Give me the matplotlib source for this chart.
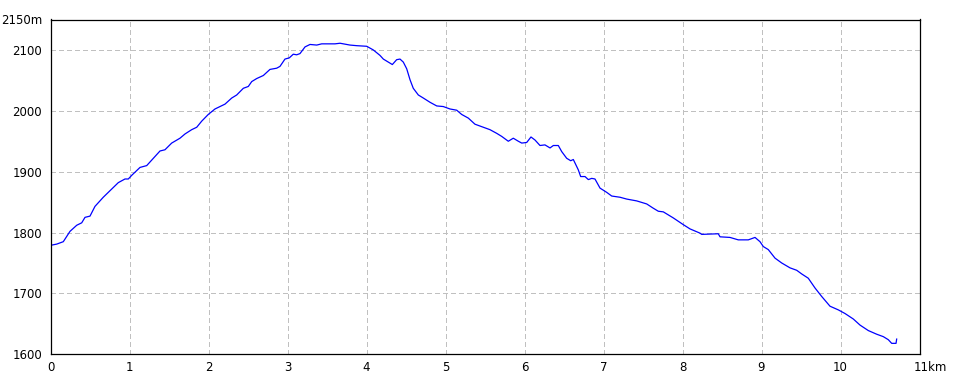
import matplotlib
matplotlib.use('Agg')
import matplotlib.pyplot as plt

# 距離 [km] と 標高 [m]
dist_km = [0.000, 0.078, 0.162, 0.247, 0.332, 0.395, 0.437, 0.500, 0.563, 0.668,
           0.795, 0.858, 0.943, 0.985, 1.028, 1.133, 1.218, 1.386, 1.449, 1.534,
           1.639, 1.703, 1.787, 1.851, 1.914, 1.997, 2.082, 2.209, 2.294, 2.357,
           2.441, 2.504, 2.547, 2.610, 2.694, 2.778, 2.863, 2.905, 2.968, 3.023,
           3.073, 3.116, 3.158, 3.222, 3.285, 3.370, 3.433, 3.601, 3.665, 3.791,
           3.876, 4.003, 4.086, 4.171, 4.213, 4.276, 4.327, 4.382, 4.424, 4.466,
           4.509, 4.551, 4.592, 4.656, 4.719, 4.804, 4.889, 4.972, 5.057, 5.142,
           5.205, 5.289, 5.373, 5.478, 5.563, 5.648, 5.711, 5.795, 5.858, 5.922,
           5.965, 6.028, 6.082, 6.133, 6.196, 6.259, 6.323, 6.365, 6.428, 6.471,
           6.534, 6.585, 6.618, 6.681, 6.711, 6.766, 6.808, 6.851, 6.892, 6.956,
           7.041, 7.104, 7.209, 7.294, 7.420, 7.547, 7.630, 7.694, 7.757, 7.884,
           8.010, 8.095, 8.222, 8.243, 8.453, 8.475, 8.601, 8.706, 8.833, 8.918,
           8.981, 9.023, 9.086, 9.171, 9.256, 9.361, 9.446, 9.509, 9.592, 9.677,
           9.762, 9.867, 9.972, 10.057, 10.162, 10.247, 10.352, 10.458, 10.542, 10.605,
           10.648, 10.703, 10.711]
elev_m = [1779, 1781, 1785, 1802, 1812, 1816, 1825, 1827, 1843, 1858,
          1874, 1882, 1888, 1888, 1894, 1907, 1910, 1934, 1936, 1947,
          1955, 1962, 1969, 1973, 1983, 1994, 2003, 2011, 2021, 2026,
          2037, 2040, 2048, 2053, 2058, 2068, 2070, 2073, 2085, 2087,
          2093, 2092, 2094, 2105, 2109, 2108, 2110, 2110, 2111, 2108,
          2107, 2106, 2100, 2091, 2085, 2080, 2076, 2084, 2085, 2080,
          2069, 2051, 2037, 2026, 2021, 2014, 2008, 2007, 2003, 2001,
          1994, 1988, 1978, 1973, 1969, 1963, 1958, 1950, 1955, 1950,
          1947, 1948, 1957, 1952, 1943, 1944, 1939, 1943, 1943, 1933,
          1922, 1918, 1920, 1903, 1892, 1892, 1887, 1889, 1888, 1873,
          1866, 1860, 1858, 1855, 1852, 1847, 1840, 1835, 1834, 1824,
          1813, 1806, 1799, 1797, 1798, 1793, 1792, 1788, 1788, 1792,
          1785, 1777, 1772, 1758, 1750, 1742, 1738, 1732, 1725, 1709,
          1695, 1679, 1673, 1667, 1658, 1648, 1639, 1633, 1629, 1624,
          1618, 1618, 1625]

x_ticks = list(range(0, 12))
x_labels = [str(i) for i in range(0, 11)] + ['']
y_ticks = [1600, 1700, 1800, 1900, 2000, 2100, 2150]
y_labels = ['1600', '1700', '1800', '1900', '2000', '2100', '2150m']

fig = plt.figure(figsize=(9.6, 3.84), dpi=100)
ax = fig.add_axes([50.5 / 960, (384 - 354.3) / 384, 869 / 960, (354.3 - 19.5) / 384])

ax.plot(dist_km, elev_m, color='#0000ff', linewidth=0.9)

ax.set_xlim(0, 11)
ax.set_ylim(1600, 2150)
ax.set_xticks(x_ticks)
ax.set_xticklabels(x_labels)
ax.set_yticks(y_ticks)
ax.set_yticklabels(y_labels)
ax.tick_params(length=0, labelsize=8.5, colors='black')
ax.tick_params(axis='x', pad=5)
ax.tick_params(axis='y', pad=6)

# 11km ラベル
ax.annotate('11km', xy=(11, 0), xycoords=('data', 'axes fraction'),
            xytext=(-4, -5), textcoords='offset points',
            ha='left', va='top', fontsize=8.5, annotation_clip=False)

# グリッド（点線）
for xv in range(1, 11):
    ax.axvline(xv, color='#c0c0c0', linewidth=0.75, linestyle=(0, (4, 3)),
               antialiased=False, zorder=0)
for yv in [1700, 1800, 1900, 2000, 2100]:
    ax.axhline(yv, color='#c0c0c0', linewidth=0.75, linestyle=(0, (4, 3)),
               antialiased=False, zorder=0)

for s in ax.spines.values():
    s.set_linewidth(0.9)
    s.set_color('black')

fig.savefig('out.png', dpi=100)
